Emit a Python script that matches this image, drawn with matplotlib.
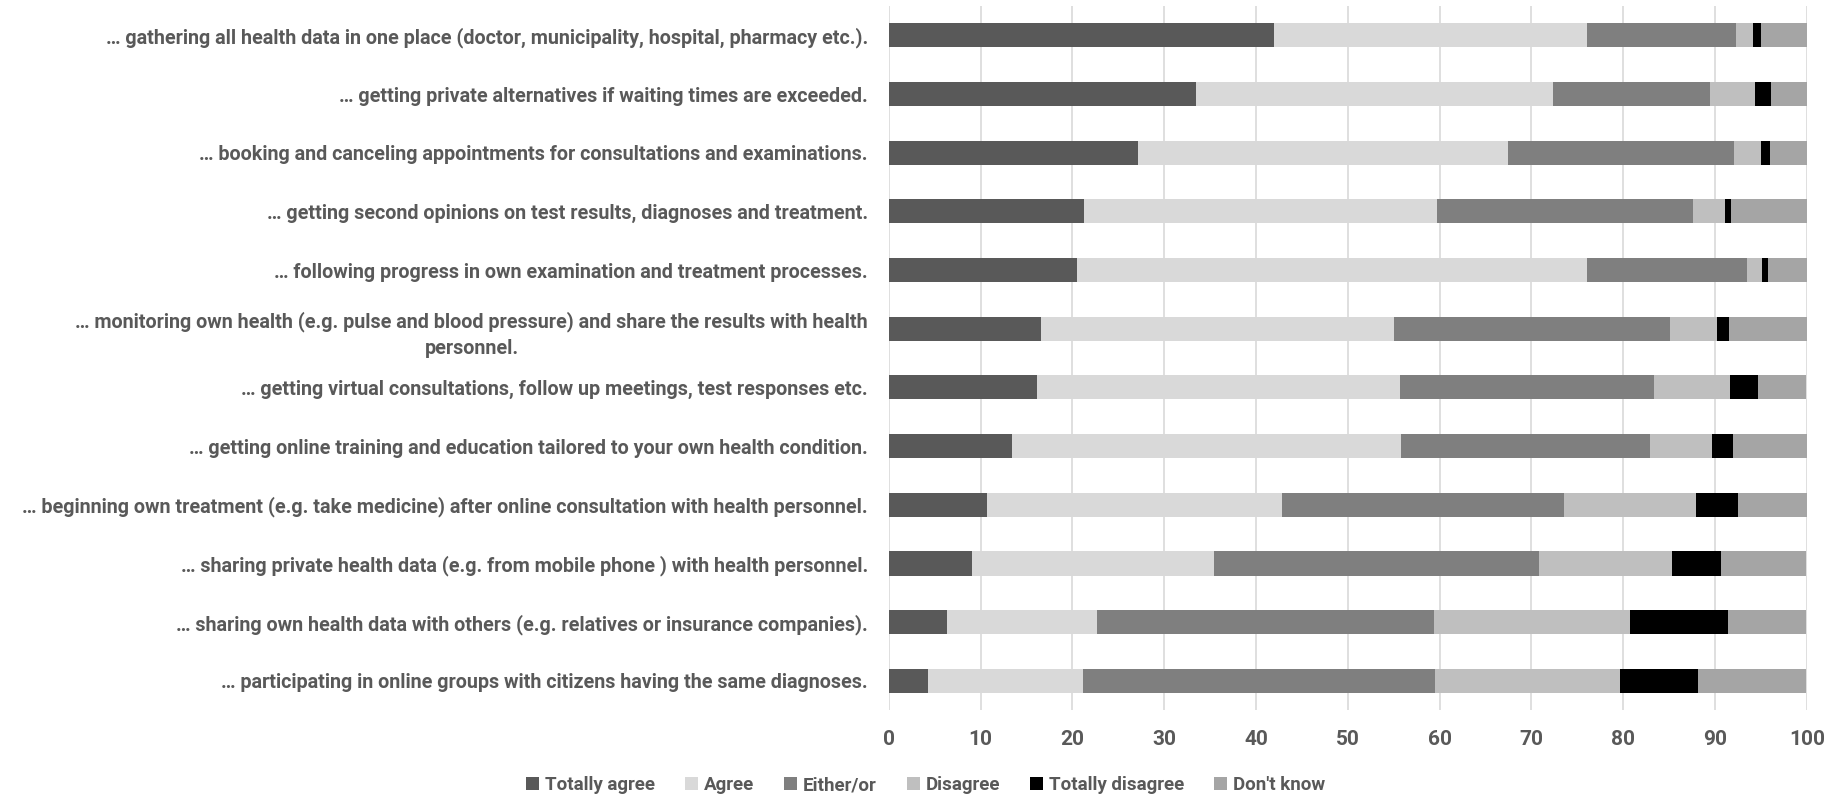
import numpy as np
import matplotlib.pyplot as plt

plt.rcParams['font.family'] = ['Roboto', 'DejaVu Sans']

categories = [
    "\u2026 gathering all health data in one place (doctor, municipality, hospital, pharmacy etc.).",
    "\u2026 getting private alternatives if waiting times are exceeded.",
    "\u2026 booking and canceling appointments for consultations and examinations.",
    "\u2026 getting second opinions on test results, diagnoses and treatment.",
    "\u2026 following progress in own examination and treatment processes.",
    "\u2026 monitoring own health (e.g. pulse and blood pressure) and share the results with health\npersonnel.",
    "\u2026 getting virtual consultations, follow up meetings, test responses etc.",
    "\u2026 getting online training and education tailored to your own health condition.",
    "\u2026 beginning own treatment (e.g. take medicine) after online consultation with health personnel.",
    "\u2026 sharing private health data (e.g. from mobile phone ) with health personnel.",
    "\u2026 sharing own health data with others (e.g. relatives or insurance companies).",
    "\u2026 participating in online groups with citizens having the same diagnoses.",
]

series_names = ["Totally agree", "Agree", "Either/or", "Disagree", "Totally disagree", "Don't know"]

totally_agree = [42.0, 33.5, 27.2, 21.3, 20.5, 16.6, 16.2, 13.4, 10.7, 9.1, 6.3, 4.3]
agree = [34.0, 38.8, 40.2, 38.4, 55.5, 38.4, 39.5, 42.4, 32.1, 26.3, 16.4, 16.9]
either_or = [16.3, 17.1, 24.7, 27.9, 17.5, 30.1, 27.6, 27.1, 30.7, 35.4, 36.7, 38.3]
disagree = [1.8, 4.9, 2.9, 3.5, 1.6, 5.1, 8.3, 6.8, 14.4, 14.5, 21.3, 20.2]
totally_disagree = [0.9, 1.8, 1.0, 0.6, 0.7, 1.3, 3.1, 2.2, 4.6, 5.4, 10.7, 8.4]
dont_know = [5.0, 3.9, 4.0, 8.3, 4.2, 8.5, 5.2, 8.1, 7.5, 9.2, 8.5, 11.8]

colors = ["#595959", "#d9d9d9", "#7f7f7f", "#bfbfbf", "#000000", "#a5a5a5"]
text_color = "#595959"

data = [totally_agree, agree, either_or, disagree, totally_disagree, dont_know]

fig = plt.figure(figsize=(18.4, 7.98), dpi=100)
ax = fig.add_axes([0.483, 0.11, 0.499, 0.8825])

y = np.arange(len(categories))
left = np.zeros(len(categories))
for name, vals, col in zip(series_names, data, colors):
    vals = np.array(vals)
    ax.barh(y, vals, left=left, height=0.41, color=col, label=name, zorder=3)
    left += vals

ax.set_xlim(0, 100)
ax.set_ylim(len(categories) - 0.5, -0.5)
ax.set_xticks(np.arange(0, 101, 10))
ax.set_yticks(y)
ax.set_yticklabels(categories, multialignment='center', linespacing=1.5)
ax.xaxis.grid(True, color="#d9d9d9", linewidth=1.2, zorder=0)
ax.set_axisbelow(True)
for s in ax.spines.values():
    s.set_visible(False)
ax.tick_params(axis='both', length=0, colors=text_color)
ax.tick_params(axis='y', pad=15, labelsize=14.2)
ax.tick_params(axis='x', pad=14, labelsize=15)
for lbl in ax.get_xticklabels() + ax.get_yticklabels():
    lbl.set_fontweight('bold')
    lbl.set_color(text_color)

leg = fig.legend(loc='center', bbox_to_anchor=(0.503, 0.016), ncol=6, frameon=False,
                 handlelength=0.7, handleheight=0.7, handletextpad=0.3, columnspacing=1.6,
                 prop={'size': 13.5, 'weight': 'bold'})
for t in leg.get_texts():
    t.set_color(text_color)

fig.savefig("out.png", dpi=100)
